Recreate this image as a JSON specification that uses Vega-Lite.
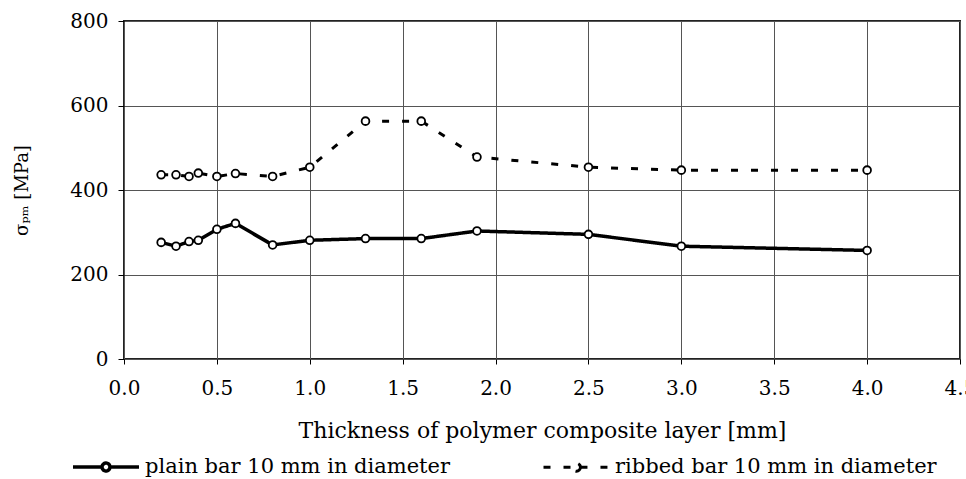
{
  "$schema": "https://vega.github.io/schema/vega-lite/v6.json",
  "width": 836,
  "height": 338,
  "autosize": {"type": "none"},
  "padding": {"left": 124, "top": 21, "right": 6, "bottom": 120},
  "background": "white",
  "config": {
    "font": "DejaVu Serif",
    "view": {"stroke": "#222", "strokeWidth": 2},
    "axis": {"gridColor": "#555", "gridOpacity": 1, "gridWidth": 1, "domain": false, "tickColor": "#000", "labelColor": "#000", "titleColor": "#000", "labelFont": "DejaVu Serif", "titleFont": "DejaVu Serif", "titleFontWeight": "normal"}
  },
  "data": {"values": [
    {"t": 0.2, "s": 276, "series": "plain bar 10 mm in diameter"},
    {"t": 0.28, "s": 267, "series": "plain bar 10 mm in diameter"},
    {"t": 0.35, "s": 278, "series": "plain bar 10 mm in diameter"},
    {"t": 0.4, "s": 281, "series": "plain bar 10 mm in diameter"},
    {"t": 0.5, "s": 307, "series": "plain bar 10 mm in diameter"},
    {"t": 0.6, "s": 321, "series": "plain bar 10 mm in diameter"},
    {"t": 0.8, "s": 270, "series": "plain bar 10 mm in diameter"},
    {"t": 1.0, "s": 281, "series": "plain bar 10 mm in diameter"},
    {"t": 1.3, "s": 285, "series": "plain bar 10 mm in diameter"},
    {"t": 1.6, "s": 285, "series": "plain bar 10 mm in diameter"},
    {"t": 1.9, "s": 303, "series": "plain bar 10 mm in diameter"},
    {"t": 2.5, "s": 295, "series": "plain bar 10 mm in diameter"},
    {"t": 3.0, "s": 267, "series": "plain bar 10 mm in diameter"},
    {"t": 4.0, "s": 257, "series": "plain bar 10 mm in diameter"},
    {"t": 0.2, "s": 436, "series": "ribbed bar 10 mm in diameter"},
    {"t": 0.28, "s": 436, "series": "ribbed bar 10 mm in diameter"},
    {"t": 0.35, "s": 432, "series": "ribbed bar 10 mm in diameter"},
    {"t": 0.4, "s": 440, "series": "ribbed bar 10 mm in diameter"},
    {"t": 0.5, "s": 432, "series": "ribbed bar 10 mm in diameter"},
    {"t": 0.6, "s": 439, "series": "ribbed bar 10 mm in diameter"},
    {"t": 0.8, "s": 432, "series": "ribbed bar 10 mm in diameter"},
    {"t": 1.0, "s": 454, "series": "ribbed bar 10 mm in diameter"},
    {"t": 1.3, "s": 563, "series": "ribbed bar 10 mm in diameter"},
    {"t": 1.6, "s": 563, "series": "ribbed bar 10 mm in diameter"},
    {"t": 1.9, "s": 478, "series": "ribbed bar 10 mm in diameter"},
    {"t": 2.5, "s": 454, "series": "ribbed bar 10 mm in diameter"},
    {"t": 3.0, "s": 447, "series": "ribbed bar 10 mm in diameter"},
    {"t": 4.0, "s": 447, "series": "ribbed bar 10 mm in diameter"}
  ]},
  "encoding": {
    "x": {"field": "t", "type": "quantitative", "scale": {"domain": [0, 4.5], "nice": false},
      "axis": {"values": [0, 0.5, 1, 1.5, 2, 2.5, 3, 3.5, 4, 4.5], "format": ".1f", "labelFontSize": 20, "labelPadding": 14, "tickSize": 5, "labelFlush": false, "title": "Thickness of polymer composite layer [mm]", "titleFontSize": 22, "titlePadding": 22}},
    "y": {"field": "s", "type": "quantitative", "scale": {"domain": [0, 800], "nice": false},
      "axis": {"values": [0, 200, 400, 600, 800], "labelFontSize": 20, "labelPadding": 10, "tickSize": 6, "labelFlush": false, "title": "σₚₘ [MPa]", "titleFontSize": 18, "titlePadding": 38}}
  },
  "layer": [
    {
      "mark": {"type": "line", "color": "#000"},
      "encoding": {
        "strokeDash": {"field": "series", "type": "nominal",
          "scale": {"domain": ["plain bar 10 mm in diameter", "ribbed bar 10 mm in diameter"], "range": [[1, 0], [7, 13]]},
          "legend": {"orient": "none", "legendX": -53, "legendY": 411, "direction": "horizontal", "padding": 0, "title": null, "labelFont": "DejaVu Serif", "labelFontSize": 21, "labelColor": "#000", "labelLimit": 400, "symbolSize": 4356, "symbolStrokeColor": "#000", "symbolStrokeWidth": 3.5, "symbolFillColor": "white", "symbolType": "M-1,0H-0.12M0.12,0H1M0.12,0A0.12,0.12 0 1,1 -0.12,0A0.12,0.12 0 1,1 0.12,0", "columnPadding": 86, "labelOffset": 4}},
        "strokeWidth": {"field": "series", "type": "nominal",
          "scale": {"domain": ["plain bar 10 mm in diameter", "ribbed bar 10 mm in diameter"], "range": [3.5, 3]},
          "legend": null}
      }
    },
    {
      "mark": {"type": "point", "filled": true, "fill": "white", "stroke": "#000", "strokeWidth": 1.8, "size": 60, "opacity": 1},
      "encoding": {"detail": {"field": "series", "type": "nominal"}}
    }
  ]
}
